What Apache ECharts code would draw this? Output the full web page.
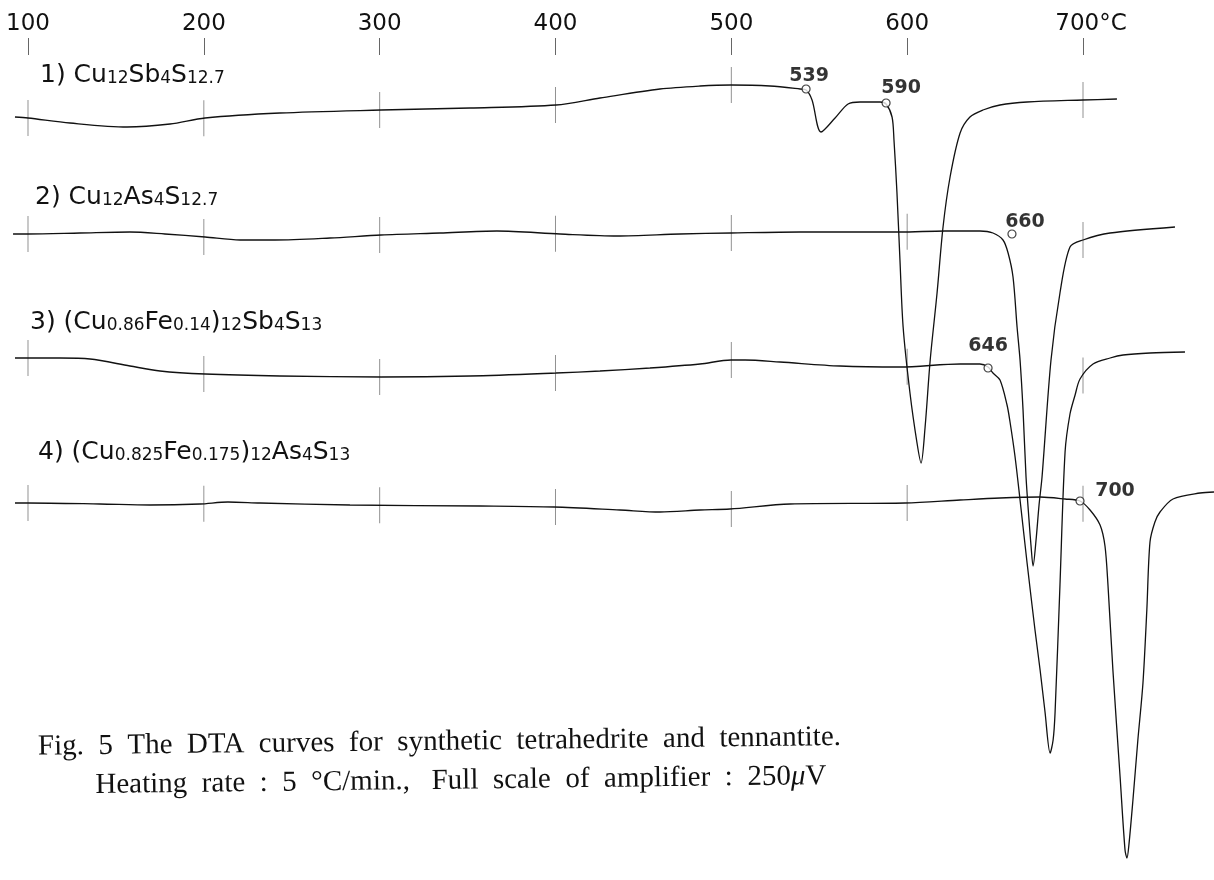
<!DOCTYPE html>
<html>
<head>
<meta charset="utf-8">
<title>DTA curves</title>
<script src="https://cdn.jsdelivr.net/npm/echarts@6/dist/echarts.min.js"></script>
<style>
  html, body { margin: 0; padding: 0; background: #fff; }
  #dta { width: 1214px; height: 880px; }
</style>
</head>
<body>
<div id="dta"></div>
<script>
// temperatures (°C) and deflection of each trace
var t1 = [92.6, 100, 123.9, 156.3, 180.8, 200.7, 243.3, 300.8, 351.4, 400.3, 425.3, 459.4, 482.2, 499.8, 522.0, 539.1, 542.5, 545.9, 551.0, 559.0, 566.4, 573.2, 584.6, 588.0, 591.4, 592.5, 594.2, 595.9, 597.7, 601.6, 605.6, 607.9, 610.2, 613.1, 617.0, 620.4, 624.4, 630.1, 635.7, 643.1, 652.8, 668.2, 700.0, 719.3];
var d1 = [1, 0, -5, -9, -6, 0, 5, 8, 10, 13, 20, 29, 32, 33, 32, 29, 28, 18, -14, 0, 14, 16, 16, 14, 1, -22, -75, -142, -209, -275, -325, -345, -309, -242, -175, -109, -59, -15, 1, 8, 13, 16, 18, 19];

var t2 = [91.5, 100, 129.6, 158.0, 177.9, 200.7, 220.6, 240.5, 271.8, 300.8, 334.3, 366.7, 402.6, 435.0, 470.8, 499.8, 539.1, 595.9, 621.5, 641.4, 648.8, 654.5, 657.4, 660.2, 662.5, 664.2, 665.9, 667.6, 669.3, 670.4, 671.6, 673.3, 675.0, 676.7, 681.8, 686.9, 692.6, 700.0, 715.4, 752.3];
var d2 = [0, 0, 1, 2, 0, -3, -6, -6, -4, -1, 1, 3, 0, -2, 0, 1, 2, 2, 3, 3, 1, -6, -19, -43, -93, -126, -176, -243, -286, -311, -332, -306, -271, -243, -126, -59, -13, -6, 1, 7];

var t3 = [92.6, 100, 118.2, 135.3, 158.0, 175.1, 200.7, 243.3, 300.8, 351.4, 400.3, 425.3, 453.7, 482.2, 499.8, 507.8, 527.7, 561.8, 595.9, 630.1, 641.4, 646.0, 648.8, 652.8, 656.8, 658.5, 661.3, 664.2, 668.2, 672.7, 675.6, 678.4, 681.3, 683.0, 684.1, 686.9, 689.8, 692.6, 695.5, 698.3, 705.7, 715.4, 722.8, 738.1, 758.0];
var d3 = [0, 0, 0, -1, -8, -13, -16, -18, -19, -18, -15, -13, -10, -6, -2, -2, -4, -8, -9, -6, -6, -9, -15, -22, -47, -64, -98, -142, -205, -272, -312, -354, -395, -382, -355, -227, -94, -56, -37, -21, -6, 0, 3, 5, 6];

var t4 = [92.6, 100, 140.9, 169.4, 197.8, 213.7, 231.9, 283.1, 357.1, 399.2, 436.7, 459.4, 482.2, 499.2, 533.4, 598.8, 630.1, 652.8, 675.6, 689.8, 698.3, 704.0, 709.7, 712.5, 714.2, 717.0, 721.1, 723.9, 725.0, 726.1, 728.4, 731.2, 734.1, 736.3, 738.1, 740.9, 743.8, 751.2, 766.6, 774.5];
var d4 = [0, 0, -1, -2, -1, 1, 0, -2, -3, -4, -7, -9, -7, -6, -1, 0, 3, 5, 6, 4, 2, -7, -22, -43, -82, -167, -274, -347, -355, -342, -297, -237, -180, -107, -39, -19, -9, 4, 10, 11];

// vertical offset of each trace on the sheet
var baseline = [-80, -196, -320, -465];

var curveNames = [
  '1) Cu{s|12}Sb{s|4}S{s|12.7}',
  '2) Cu{s|12}As{s|4}S{s|12.7}',
  '3) (Cu{s|0.86}Fe{s|0.14}){s|12}Sb{s|4}S{s|13}',
  '4) (Cu{s|0.825}Fe{s|0.175}){s|12}As{s|4}S{s|13}'
];

var tempTicks = [100, 200, 300, 400, 500, 600, 700];
var curveTicks = [
  [100, 200, 300, 400, 500, 700],
  [100, 200, 300, 400, 500, 600, 700],
  [100, 200, 300, 400, 500, 600, 700],
  [100, 200, 300, 400, 500, 600, 700]
];

// marked onset points: label, trace, temperature, deflection
var onsetLabels = ['539', '590', '660', '646', '700'];
var onsetCurve = [0, 0, 1, 2, 3];
var onsetTemp = [542.5, 588, 659.6, 646, 698.3];
var onsetDefl = [29, 15, 0, -10, 2];

var temps = [t1, t2, t3, t4];
var defl = [d1, d2, d3, d4];

function tracePairs(i) {
  return temps[i].map(function (t, k) { return [t, baseline[i] + defl[i][k]]; });
}
function valueAt(i, t) {
  var ts = temps[i], ds = defl[i];
  for (var k = 1; k < ts.length; k++) {
    if (t <= ts[k]) {
      var f = (t - ts[k - 1]) / (ts[k] - ts[k - 1]);
      return baseline[i] + ds[k - 1] + f * (ds[k] - ds[k - 1]);
    }
  }
  return baseline[i] + ds[ds.length - 1];
}

var labelShift = [[3, -13], [15, -15], [13, -12], [0, -22], [35, -10]];

var series = [];
// little temperature marks the recorder put on each trace
var tickData = [];
curveTicks.forEach(function (list, i) {
  list.forEach(function (t) { tickData.push([t, valueAt(i, t)]); });
});
series.push({
  type: 'scatter',
  data: tickData,
  symbol: 'rect',
  symbolSize: [1, 36],
  itemStyle: { color: '#777' },
  silent: true,
  z: 1
});
for (var i = 0; i < 4; i++) {
  series.push({
    type: 'line',
    data: tracePairs(i),
    showSymbol: false,
    smooth: 0.3,
    clip: false,
    lineStyle: { color: '#111', width: 1.3 },
    silent: true,
    z: 2
  });
}
series.push({
  type: 'scatter',
  data: onsetLabels.map(function (lab, k) {
    return {
      value: [onsetTemp[k], baseline[onsetCurve[k]] + onsetDefl[k]],
      label: { offset: labelShift[k] }
    };
  }),
  symbol: 'circle',
  symbolSize: 8,
  itemStyle: { color: '#fff', borderColor: '#111', borderWidth: 1.2 },
  label: {
    show: true,
    position: 'inside',
    formatter: function (p) { return onsetLabels[p.dataIndex]; },
    fontFamily: 'DejaVu Sans',
    fontWeight: 'bold',
    fontSize: 19,
    color: '#000'
  },
  silent: true,
  z: 3
});

var graphics = curveNames.map(function (txt, i) {
  var pos = [[40, 75], [35, 197], [30, 322], [38, 452]][i];
  return {
    type: 'text',
    x: pos[0],
    y: pos[1],
    style: {
      text: txt,
      fill: '#111',
      fontFamily: 'DejaVu Sans',
      fontSize: 25,
      verticalAlign: 'middle',
      rich: { s: { fontSize: 17, fontFamily: 'DejaVu Sans', verticalAlign: 'bottom', fill: '#111' } }
    }
  };
});
graphics.push({
  type: 'group',
  x: 38,
  y: 747,
  rotation: 0.012,
  children: [
    {
      type: 'text', x: 0, y: 0,
      style: {
        text: 'Fig.  5  The  DTA  curves  for  synthetic  tetrahedrite  and  tennantite.',
        fill: '#111', fontFamily: 'Liberation Serif', fontSize: 29, verticalAlign: 'middle'
      }
    },
    {
      type: 'text', x: 57, y: 39,
      style: {
        text: 'Heating  rate  :  5  °C/min.,   Full  scale  of  amplifier  :  250{mu|μ}V',
        fill: '#111', fontFamily: 'Liberation Serif', fontSize: 29, verticalAlign: 'middle',
        rich: { mu: { fontStyle: 'italic', fontFamily: 'Liberation Serif', fontSize: 29, fill: '#111' } }
      }
    }
  ]
});

// 1.7583 px per degree; the temperature scale runs from the left edge to the right edge
var option = {
  animation: false,
  backgroundColor: '#fff',
  grid: { left: 0, right: 0, top: 38, bottom: 0 },
  xAxis: {
    type: 'value',
    position: 'top',
    min: 84.08,
    max: 774.5,
    axisLine: { show: false },
    axisTick: {
      show: true, inside: true, length: 17, customValues: tempTicks,
      lineStyle: { color: '#666', width: 1 }
    },
    splitLine: { show: false },
    axisLabel: {
      customValues: tempTicks,
      margin: 2,
      fontFamily: 'DejaVu Sans',
      fontSize: 23,
      color: '#111',
      formatter: function (v) { return v === 700 ? '{u|700°C}' : String(v); },
      rich: { u: { fontFamily: 'DejaVu Sans', fontSize: 23, color: '#111', padding: [0, 0, 0, 16] } }
    }
  },
  yAxis: {
    type: 'value',
    min: -842,
    max: 0,
    show: false
  },
  graphic: graphics,
  series: series
};

var dtaChart = echarts.init(document.getElementById('dta'));
dtaChart.setOption(option);
</script>
</body>
</html>
